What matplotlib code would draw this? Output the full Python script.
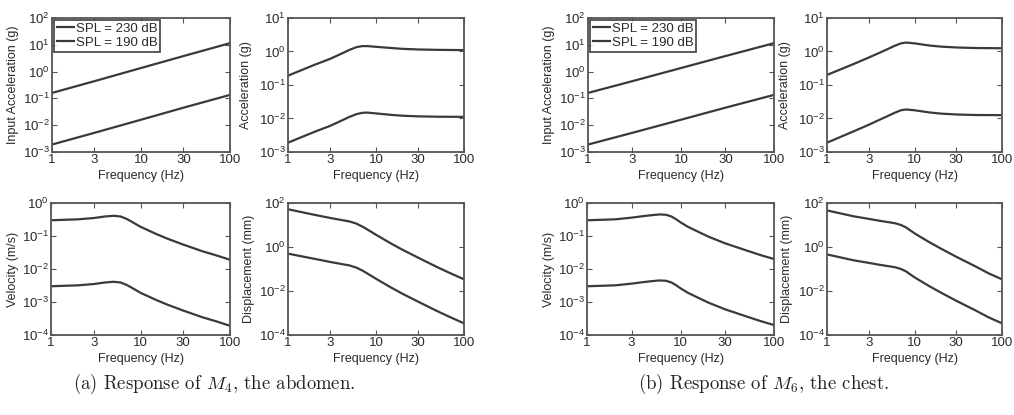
import matplotlib
matplotlib.use('Agg')
import matplotlib.pyplot as plt
from matplotlib.ticker import FixedLocator, NullLocator, LogFormatterSciNotation

plt.rcParams['font.family'] = ['Liberation Sans', 'DejaVu Sans']

# ---------------- data ----------------
series_labels = ['SPL = 230 dB', 'SPL = 190 dB']
freq_ticks = [1, 3, 10, 30, 100]
freq_tick_labels = ['1', '3', '10', '30', '100']

# Input acceleration (g), same for both cases
f_in = [1, 3, 10, 30, 100]
in_230 = [0.16, 0.44, 1.36, 3.8, 11.5]
in_190 = [0.0019, 0.0052, 0.016, 0.045, 0.135]

# (a) M4 abdomen
f_a_acc = [1, 2, 3, 4, 5, 6, 7, 8, 10, 15, 20, 30, 50, 100]
a_acc_230 = [0.19, 0.40, 0.60, 0.85, 1.12, 1.35, 1.45, 1.45, 1.38, 1.27, 1.2, 1.15, 1.12, 1.1]
a_acc_190 = [0.0019, 0.0040, 0.0060, 0.0085, 0.0112, 0.0135, 0.0148, 0.0150, 0.0142, 0.0128, 0.0121, 0.0116, 0.0113, 0.0112]

f_a_vel = [1, 2, 3, 4, 5, 6, 7, 8, 10, 15, 20, 30, 50, 70, 100]
a_vel_230 = [0.30, 0.32, 0.35, 0.39, 0.41, 0.39, 0.33, 0.27, 0.19, 0.115, 0.083, 0.055, 0.034, 0.026, 0.019]
a_vel_190 = [0.0030, 0.0032, 0.0035, 0.0039, 0.0041, 0.0039, 0.0033, 0.0027, 0.0019, 0.00115, 0.00083, 0.00055, 0.00034, 0.00026, 0.00019]

f_a_dis = [1, 2, 3, 4, 5, 6, 7, 8, 10, 15, 20, 30, 50, 70, 100]
a_dis_230 = [52, 29, 21, 17, 14.5, 11.5, 8.5, 6.2, 3.6, 1.4, 0.75, 0.33, 0.12, 0.064, 0.034]
a_dis_190 = [0.50, 0.29, 0.21, 0.17, 0.145, 0.115, 0.085, 0.062, 0.036, 0.014, 0.0075, 0.0033, 0.0012, 0.00064, 0.00034]

# (b) M6 chest
f_b_acc = [1, 2, 3, 4, 5, 6, 7, 8, 10, 15, 20, 30, 50, 100]
b_acc_230 = [0.20, 0.42, 0.66, 0.92, 1.2, 1.5, 1.75, 1.85, 1.75, 1.5, 1.4, 1.32, 1.27, 1.25]
b_acc_190 = [0.0019, 0.0041, 0.0065, 0.0092, 0.012, 0.015, 0.0176, 0.0186, 0.0176, 0.0151, 0.0140, 0.0132, 0.0127, 0.0126]

f_b_vel = [1, 2, 3, 4, 5, 6, 7, 8, 9, 10, 12, 15, 20, 30, 50, 70, 100]
b_vel_230 = [0.30, 0.32, 0.36, 0.40, 0.43, 0.45, 0.44, 0.39, 0.32, 0.26, 0.19, 0.14, 0.095, 0.060, 0.037, 0.027, 0.020]
b_vel_190 = [0.0030, 0.0032, 0.0036, 0.0040, 0.0043, 0.0045, 0.0044, 0.0039, 0.0032, 0.0026, 0.0019, 0.0014, 0.00095, 0.00060, 0.00037, 0.00027, 0.00020]

f_b_dis = [1, 2, 3, 4, 5, 6, 7, 8, 9, 10, 12, 15, 20, 30, 50, 70, 100]
b_dis_230 = [46, 25, 19, 15.5, 13.5, 12, 10, 7.8, 5.6, 4.2, 2.7, 1.6, 0.85, 0.36, 0.13, 0.064, 0.034]
b_dis_190 = [0.46, 0.25, 0.19, 0.155, 0.135, 0.12, 0.10, 0.078, 0.056, 0.042, 0.027, 0.016, 0.0085, 0.0036, 0.0013, 0.00064, 0.00034]

captions = [r'(a) Response of $M_4$, the abdomen.', r'(b) Response of $M_6$, the chest.']

# ---------------- layout ----------------
W, H = 1014, 415
fig = plt.figure(figsize=(W / 100, H / 100), dpi=100)
fig.patch.set_facecolor('white')

LINE_C = '#3a3a3a'
TEXT_C = '#2a2a2a'
FS = 9.0


def add_ax(l, r, t, b):
    return fig.add_axes([l / W, 1 - b / H, (r - l) / W, (b - t) / H])


def style(ax, l, r, t, b, ylim, yticks, ylabel, ylab_x, xlab_y):
    ax.set_xscale('log')
    ax.set_yscale('log')
    ax.set_xlim(1, 100)
    ax.set_ylim(*ylim)
    ax.xaxis.set_major_locator(FixedLocator(freq_ticks))
    ax.set_xticklabels(freq_tick_labels)
    ax.xaxis.set_minor_locator(NullLocator())
    ax.yaxis.set_major_locator(FixedLocator(yticks))
    ax.yaxis.set_major_formatter(LogFormatterSciNotation())
    ax.yaxis.set_minor_locator(NullLocator())
    ax.tick_params(direction='in', top=True, right=True, length=3.5, width=0.8,
                   colors='#555555', labelcolor=TEXT_C, labelsize=FS + 0.5, pad=1.5)
    for s in ax.spines.values():
        s.set_color('#555555')
        s.set_linewidth(1.3)
    ax.set_xlabel('Frequency (Hz)', fontsize=FS, color=TEXT_C)
    ax.set_ylabel(ylabel, fontsize=FS, color=TEXT_C)
    ax.xaxis.label.set_va('center')
    ax.yaxis.label.set_va('center')
    ax.xaxis.set_label_coords(0.5, (b - xlab_y) / (b - t))
    ax.yaxis.set_label_coords((ylab_x - l) / (r - l), 0.5)


def draw(ax, f, y1, y2):
    ax.plot(f, y1, color=LINE_C, lw=1.6, label=series_labels[0])
    ax.plot(f, y2, color=LINE_C, lw=1.6, label=series_labels[1])


panels = [
    # (l, r, t, b, f, y230, y190, ylim, yticks, ylabel, ylab_x, legend)
    (52, 230, 18, 152, f_in, in_230, in_190, (1e-3, 1e2), [1e-3, 1e-2, 1e-1, 1e0, 1e1, 1e2], 'Input Acceleration (g)', 13, True),
    (288, 464, 18, 152, f_a_acc, a_acc_230, a_acc_190, (1e-3, 1e1), [1e-3, 1e-2, 1e-1, 1e0, 1e1], 'Acceleration (g)', 246, False),
    (51, 230, 203, 335, f_a_vel, a_vel_230, a_vel_190, (1e-4, 1e0), [1e-4, 1e-3, 1e-2, 1e-1, 1e0], 'Velocity (m/s)', 13, False),
    (288, 464, 203, 335, f_a_dis, a_dis_230, a_dis_190, (1e-4, 1e2), [1e-4, 1e-2, 1e0, 1e2], 'Displacement (mm)', 249, False),
    (588, 774, 18, 152, f_in, in_230, in_190, (1e-3, 1e2), [1e-3, 1e-2, 1e-1, 1e0, 1e1, 1e2], 'Input Acceleration (g)', 549, True),
    (827, 1002, 18, 152, f_b_acc, b_acc_230, b_acc_190, (1e-3, 1e1), [1e-3, 1e-2, 1e-1, 1e0, 1e1], 'Acceleration (g)', 785, False),
    (587, 774, 203, 335, f_b_vel, b_vel_230, b_vel_190, (1e-4, 1e0), [1e-4, 1e-3, 1e-2, 1e-1, 1e0], 'Velocity (m/s)', 549, False),
    (827, 1002, 203, 335, f_b_dis, b_dis_230, b_dis_190, (1e-4, 1e2), [1e-4, 1e-2, 1e0, 1e2], 'Displacement (mm)', 787, False),
]

for (l, r, t, b, f, y1, y2, ylim, yticks, ylabel, ylx, leg) in panels:
    ax = add_ax(l, r, t, b)
    draw(ax, f, y1, y2)
    xlab_y = b + 24
    style(ax, l, r, t, b, ylim, yticks, ylabel, ylx, xlab_y)
    if leg:
        lg = ax.legend(loc='upper left', fontsize=FS + 0.5, frameon=True, fancybox=False,
                       handlelength=1.3, handletextpad=0.15, borderpad=0.2,
                       labelspacing=0.15, borderaxespad=0.15)
        lg.get_frame().set_edgecolor('#222222')
        lg.get_frame().set_linewidth(1.3)
        for tx in lg.get_texts():
            tx.set_color(TEXT_C)

fig.text(214 / W, 1 - 384 / H, captions[0], ha='center', va='center', fontsize=13.5,
         family='cmr10', math_fontfamily='cm', color='#222222')
fig.text(764 / W, 1 - 384 / H, captions[1], ha='center', va='center', fontsize=13.5,
         family='cmr10', math_fontfamily='cm', color='#222222')

fig.savefig('out.png', dpi=100, facecolor='white')
